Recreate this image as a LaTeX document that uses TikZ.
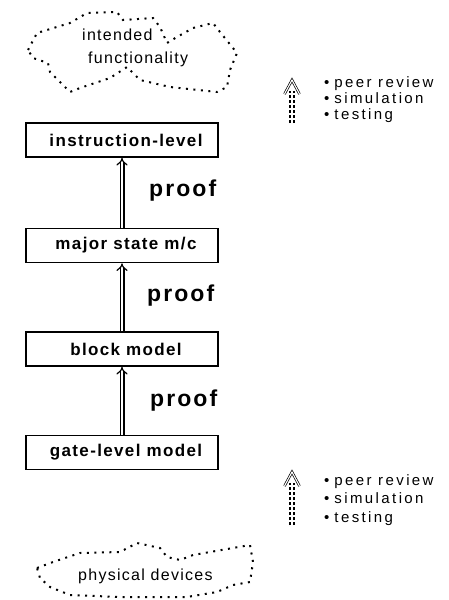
\documentclass[tikz,border=0pt]{standalone}
\usepackage{fontspec}
\setmainfont{Liberation Sans}
\newfontfamily\cloudfont[LetterSpace=8]{Liberation Sans}
\newfontfamily\boxfont[LetterSpace=8]{Liberation Sans}
\newfontfamily\prooffont[LetterSpace=9]{Liberation Sans}
\newfontfamily\bulfont[LetterSpace=16]{Liberation Sans}
\usetikzlibrary{arrows.meta}
\begin{document}
\begin{tikzpicture}[x=1pt,y=-1pt,
 level/.style={draw, line width=1.7pt, minimum width=192pt, minimum height=34pt, inner sep=0pt, font=\boxfont\bfseries\fontsize{17}{19}\selectfont},
 proofarrow/.style={double, double distance=2.6pt, line width=1.2pt, -{Implies}},
 prooflabel/.style={anchor=base west, inner sep=0pt, font=\prooffont\bfseries\fontsize{23}{26}\selectfont},
 cloudline/.style={line width=2pt, dash pattern=on 2pt off 5.5pt, line cap=butt},
 cloudtext/.style={anchor=base west, inner sep=0pt, font=\cloudfont\fontsize{16}{18}\selectfont},
 bul/.style={anchor=base west, inner sep=0pt, font=\bulfont\fontsize{15}{17}\selectfont},
 dotshaft/.style={line width=2pt, dash pattern=on 3pt off 2pt},
 chevron/.style={double, line width=0.7pt, double distance=1.1pt},
 ]
\useasboundingbox (0,0) rectangle (449,600);

% top cloud
\draw[cloudline] (28,50) -- (37,33) -- (70,23) -- (87,13) -- (117,12) -- (123,20) -- (153,18) -- (160,27) -- (167,43) -- (177,37) -- (193,28) -- (213,23) -- (220,32) -- (237,53) -- (230,70) -- (227,87) -- (217,92) -- (170,87) -- (140,80) -- (127,67) -- (110,78) -- (80,88) -- (70,92) -- (50,72) -- (48,63) -- (33,58) -- cycle;
\node[cloudtext] (intended) at (82,40) {intended};
\node[cloudtext] (functionality) at (88,63) {functionality};

% boxes
\node[level] (instr) at (122,140) {\hspace{8pt}instruction-level};
\node[level] (major) at (122,245.5) {\hspace{8pt}major state m/c};
\node[level] (block) at (122,349) {\hspace{8pt}block model};
\node[level] (gate) at (122,452.5) {\hspace{8pt}gate-level model};

\draw[proofarrow] (major.north) -- (instr.south);
\draw[proofarrow] (block.north) -- (major.south);
\draw[proofarrow] (gate.north) -- (block.south);

\node[prooflabel] (p1) at (149,196) {proof};
\node[prooflabel] (p2) at (147,301) {proof};
\node[prooflabel] (p3) at (150,406) {proof};

% top dotted arrow and list
\coordinate (ta) at (292,80);
\coordinate (tb) at (292,123);
\draw[dotshaft] ([xshift=-2.2pt]tb) -- ([xshift=-2.2pt,yshift=-11pt]ta);
\draw[dotshaft] ([xshift=2.2pt]tb) -- ([xshift=2.2pt,yshift=-11pt]ta);
\draw[chevron] ([xshift=-7.5pt,yshift=-14pt]ta) -- (ta) -- ([xshift=7.5pt,yshift=-14pt]ta);
\node[bul] (t1) at (324,87) {•\hspace{5pt}peer review};
\node[bul] (t2) at (324,103) {•\hspace{5pt}simulation};
\node[bul] (t3) at (324,119) {•\hspace{5pt}testing};

% bottom dotted arrow and list
\coordinate (ba) at (292,472);
\coordinate (bb) at (292,525);
\draw[dotshaft] ([xshift=-2.2pt]bb) -- ([xshift=-2.2pt,yshift=-11pt]ba);
\draw[dotshaft] ([xshift=2.2pt]bb) -- ([xshift=2.2pt,yshift=-11pt]ba);
\draw[chevron] ([xshift=-7.5pt,yshift=-14pt]ba) -- (ba) -- ([xshift=7.5pt,yshift=-14pt]ba);
\node[bul] (b1) at (324,485) {•\hspace{5pt}peer review};
\node[bul] (b2) at (324,503) {•\hspace{5pt}simulation};
\node[bul] (b3) at (324,522) {•\hspace{5pt}testing};

% bottom cloud
\draw[cloudline] (37,568) -- (53,562) -- (80,553) -- (120,552) -- (137,543) -- (160,548) -- (167,557) -- (180,560) -- (193,555) -- (250,545) -- (253,562) -- (250,582) -- (233,585) -- (217,592) -- (187,597) -- (120,597) -- (70,595) -- (50,587) -- (40,578) -- cycle;
\node[cloudtext] (phys) at (78,580) {physical devices};
\end{tikzpicture}
\end{document}
